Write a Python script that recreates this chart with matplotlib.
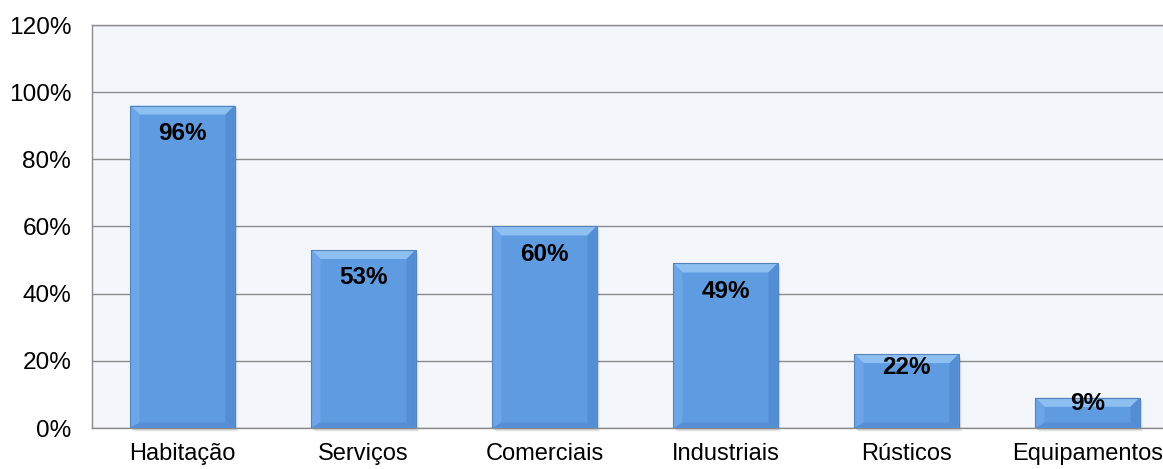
import matplotlib
matplotlib.use("Agg")
import matplotlib.pyplot as plt
from matplotlib.patches import Polygon, Rectangle
from matplotlib.ticker import FuncFormatter, MultipleLocator

categories = ["Habitação", "Serviços", "Comerciais", "Industriais", "Rústicos", "Equipamentos"]
values = [96, 53, 60, 49, 22, 9]

plt.rcParams["font.family"] = ["Liberation Sans", "DejaVu Sans"]

W, H = 1163, 469
fig = plt.figure(figsize=(W / 100, H / 100), dpi=100)
ax = fig.add_axes([92 / W, 41 / H, 1 - 92 / W, (428 - 25) / H])

ax.set_facecolor("#F3F6FB")
ax.set_ylim(0, 120)
ax.set_xlim(-0.5, -0.5 + (W - 92) / 181)
ax.yaxis.set_major_locator(MultipleLocator(20))
ax.yaxis.set_major_formatter(FuncFormatter(lambda v, p: f"{int(v)}%"))
ax.grid(axis="y", color="#8C8C8C", linewidth=1.0)
ax.set_axisbelow(True)
for side in ["top", "left", "bottom"]:
    ax.spines[side].set_color("#8C8C8C")
    ax.spines[side].set_linewidth(1.0)
ax.spines["right"].set_visible(False)
ax.tick_params(axis="both", length=0, colors="black")
ax.tick_params(axis="y", pad=15, labelsize=17.6)
ax.tick_params(axis="x", pad=11, labelsize=17.0)
ax.set_xticks(range(len(categories)))
ax.set_xticklabels(categories)

bw = 0.575
xs = list(range(len(categories)))

# unit sizes in pixels
px_x = 1 / 181.0
px_y = 120.0 / 403.0
d = 9  # bevel depth in pixels

face = "#5F9BE0"
for x, v in zip(xs, values):
    x0, x1 = x - bw / 2, x + bw / 2
    dx, dy = d * px_x, min(d * px_y, v / 2.5)
    dyb = dy * 0.6
    # soft shadow
    for k, a in enumerate([0.09, 0.06, 0.035]):
        off = k + 1.5
        ax.add_patch(Rectangle((x0 + off * px_x, -off * px_y), bw, v,
                               facecolor="black", alpha=a, linewidth=0,
                               zorder=2, clip_on=False))
    ax.add_patch(Rectangle((x0, 0), bw, v, facecolor=face, edgecolor="none", zorder=3))
    # bevel facets
    top = [(x0, v), (x1, v), (x1 - dx, v - dy), (x0 + dx, v - dy)]
    left = [(x0, v), (x0 + dx, v - dy), (x0 + dx, dyb), (x0, 0)]
    right = [(x1, v), (x1, 0), (x1 - dx, dyb), (x1 - dx, v - dy)]
    bottom = [(x0, 0), (x1, 0), (x1 - dx, dyb), (x0 + dx, dyb)]
    ax.add_patch(Polygon(top, closed=True, facecolor="#8EBFF1", edgecolor="none", zorder=4))
    ax.add_patch(Polygon(left, closed=True, facecolor="#6CA6E8", edgecolor="none", zorder=4))
    ax.add_patch(Polygon(right, closed=True, facecolor="#538DD3", edgecolor="none", zorder=4))
    ax.add_patch(Polygon(bottom, closed=True, facecolor="#568FD4", edgecolor="none", zorder=4))
    ax.add_patch(Rectangle((x0, 0), bw, v, facecolor="none", edgecolor="#5583BE",
                           linewidth=0.8, zorder=5))
    ly = max(v - 8.3, 0.82 * v)
    ax.text(x, ly, f"{v}%", ha="center", va="center", fontsize=17.5,
            fontweight="bold", color="black", zorder=6)

fig.savefig("out.png", dpi=100, facecolor="white")
